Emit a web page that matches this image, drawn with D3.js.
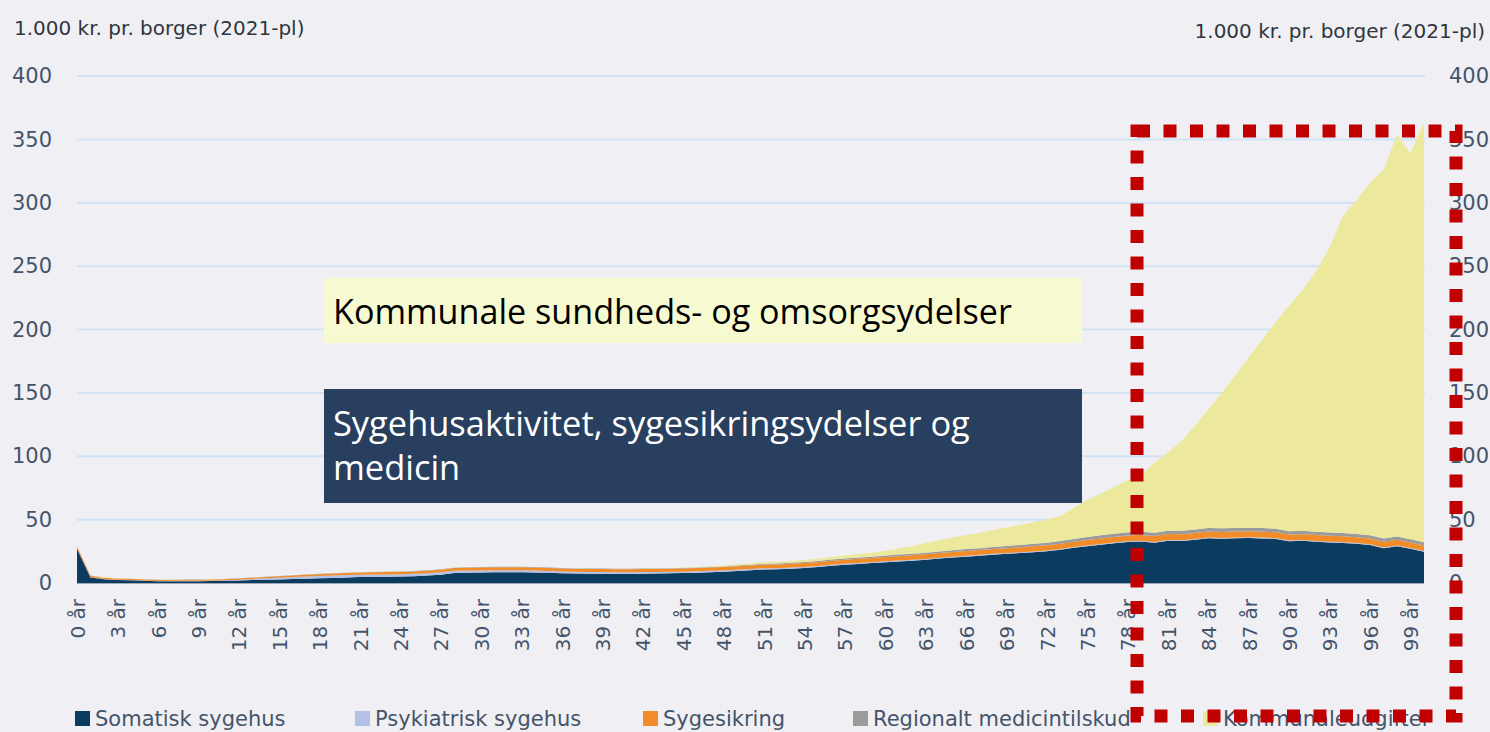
<!DOCTYPE html>
<html>
<head>
<meta charset="utf-8">
<script src="https://cdn.jsdelivr.net/npm/d3@7"></script>
<style>
    body { margin: 0; background: #f0f0f4; }
    svg { display: block; }
</style>
</head>
<body>
<div id="chart"></div>
<script>

    // alder 0 .. 100 år
    var ages = [0, 1, 2, 3, 4, 5, 6, 7, 8, 9, 10, 11, 12, 13, 14, 15, 16, 17, 18, 19, 20,
        21, 22, 23, 24, 25, 26, 27, 28, 29, 30, 31, 32, 33, 34, 35, 36, 37, 38, 39, 40,
        41, 42, 43, 44, 45, 46, 47, 48, 49, 50, 51, 52, 53, 54, 55, 56, 57, 58, 59, 60,
        61, 62, 63, 64, 65, 66, 67, 68, 69, 70, 71, 72, 73, 74, 75, 76, 77, 78, 79, 80,
        81, 82, 83, 84, 85, 86, 87, 88, 89, 90, 91, 92, 93, 94, 95, 96, 97, 98, 99, 100];

    var somatisk = [27, 4.4, 3.0, 2.4, 2.1, 1.8, 1.3, 1.4, 1.4, 1.4, 1.5,
        1.7, 2.0, 2.3, 2.6, 2.8, 3.1, 3.4, 3.7, 4.0, 4.3,
        4.7, 4.8, 4.9, 5.1, 5.4, 5.9, 6.6, 7.8, 8.1, 8.3,
        8.4, 8.4, 8.5, 8.3, 8.0, 7.7, 7.4, 7.3, 7.3, 7.2,
        7.2, 7.3, 7.5, 7.6, 7.8, 8.1, 8.5, 8.9, 9.5, 10.1,
        10.7, 10.8, 11.3, 11.9, 12.7, 13.6, 14.4, 15.0, 15.7, 16.4,
        17.0, 17.6, 18.3, 19.3, 20.1, 20.8, 21.5, 22.3, 23.0, 23.6,
        24.3, 25.0, 26.2, 27.8, 29.0, 30.2, 31.3, 32.4, 32.8, 31.8,
        33.4, 33.2, 34.2, 35.3, 35.0, 35.3, 35.5, 35.2, 34.8, 33.0,
        33.3, 32.6, 32.0, 31.6, 31.0, 30.0, 27.5, 29.0, 27.0, 24.7];

    var psykiatrisk = [0.2, 0.2, 0.2, 0.2, 0.2, 0.2, 0.3, 0.3, 0.3, 0.3, 0.3,
        0.4, 0.6, 0.9, 1.2, 1.4, 1.6, 1.8, 1.9, 1.9, 2.0,
        1.9, 1.9, 1.9, 1.9, 1.8, 1.8, 1.8, 1.8, 1.7, 1.6,
        1.6, 1.6, 1.5, 1.5, 1.4, 1.4, 1.4, 1.4, 1.3, 1.3,
        1.3, 1.3, 1.2, 1.2, 1.1, 1.1, 1.1, 1.0, 1.0, 0.9,
        0.9, 0.9, 0.9, 0.8, 0.8, 0.8, 0.8, 0.8, 0.7, 0.7,
        0.7, 0.7, 0.7, 0.7, 0.7, 0.7, 0.7, 0.7, 0.6, 0.6,
        0.6, 0.6, 0.6, 0.6, 0.6, 0.6, 0.6, 0.6, 0.6, 0.6,
        0.6, 0.6, 0.6, 0.6, 0.6, 0.6, 0.6, 0.6, 0.6, 0.6,
        0.6, 0.6, 0.6, 0.6, 0.6, 0.6, 0.6, 0.6, 0.6, 0.6];

    var sygesikring = [1.5, 1.2, 0.9, 0.9, 0.9, 0.9, 0.8, 0.8, 0.9, 0.9, 0.9,
        0.9, 1.0, 1.0, 1.0, 1.1, 1.2, 1.3, 1.4, 1.5, 1.5,
        1.6, 1.7, 1.8, 1.8, 1.9, 2.0, 2.1, 2.2, 2.3, 2.4,
        2.4, 2.4, 2.5, 2.4, 2.4, 2.3, 2.3, 2.3, 2.4, 2.4,
        2.4, 2.4, 2.4, 2.5, 2.5, 2.6, 2.6, 2.7, 2.7, 2.8,
        2.9, 2.9, 3.0, 3.0, 3.1, 3.2, 3.2, 3.3, 3.3, 3.4,
        3.5, 3.5, 3.6, 3.6, 3.7, 3.8, 3.8, 3.9, 3.9, 4.0,
        4.1, 4.1, 4.2, 4.2, 4.3, 4.4, 4.4, 4.5, 4.5, 4.6,
        4.6, 4.6, 4.6, 4.7, 4.7, 4.7, 4.7, 4.7, 4.6, 4.6,
        4.6, 4.6, 4.6, 4.6, 4.5, 4.5, 4.5, 4.5, 4.4, 4.2];

    var medicintilskud = [0.3, 0.1, 0.1, 0.1, 0.1, 0.1, 0.1, 0.1, 0.1, 0.1, 0.1,
        0.1, 0.1, 0.1, 0.1, 0.2, 0.2, 0.2, 0.3, 0.3, 0.3,
        0.3, 0.3, 0.3, 0.3, 0.3, 0.3, 0.3, 0.3, 0.3, 0.4,
        0.4, 0.4, 0.4, 0.4, 0.4, 0.4, 0.4, 0.4, 0.4, 0.4,
        0.4, 0.4, 0.4, 0.4, 0.5, 0.5, 0.5, 0.5, 0.6, 0.6,
        0.7, 0.7, 0.7, 0.8, 0.8, 0.9, 0.9, 1.0, 1.0, 1.1,
        1.2, 1.2, 1.3, 1.3, 1.4, 1.5, 1.5, 1.6, 1.7, 1.8,
        1.9, 2.0, 2.1, 2.2, 2.3, 2.4, 2.5, 2.5, 2.6, 2.7,
        2.7, 2.8, 2.8, 2.8, 2.8, 2.8, 2.8, 2.8, 2.8, 2.7,
        2.7, 2.7, 2.7, 2.6, 2.6, 2.6, 2.6, 2.6, 2.6, 2.6];

    var kommunal = [0.5, 0.1, 0.3, 0.1, 0.1, 0.1, 0.1, 0.1, 0.1, 0.1, 0.1,
        0.1, 0.1, 0.1, 0.1, 0.1, 0.1, 0.1, 0.1, 0.1, 0.1,
        0.1, 0.1, 0.1, 0.1, 0.1, 0.1, 0.1, 0.1, 0.1, 0.1,
        0.1, 0.1, 0.1, 0.1, 0.1, 0.1, 0.1, 0.1, 0.1, 0.2,
        0.2, 0.2, 0.2, 0.2, 0.3, 0.4, 0.5, 0.7, 0.9, 1.1,
        1.3, 1.4, 1.5, 1.6, 1.8, 2.0, 2.3, 2.7, 3.2, 3.9,
        4.8, 6.0, 7.5, 9.0, 10.0, 10.8, 12.0, 13.3, 14.6, 15.8,
        17.0, 18.3, 19.8, 24.5, 29.0, 33.0, 37.0, 41.0, 45.0, 55.2,
        61.6, 70.8, 81.8, 93.7, 107.0, 120.7, 134.5, 148.8, 163.2, 178.2,
        189.9, 205.6, 225.2, 250.6, 263.2, 278.2, 290.7, 317.2, 304.2, 331.5];

    var yTicks = [0, 50, 100, 150, 200, 250, 300, 350, 400];
    var xTicks = [0, 3, 6, 9, 12, 15, 18, 21, 24, 27, 30, 33, 36, 39, 42, 45, 48,
        51, 54, 57, 60, 63, 66, 69, 72, 75, 78, 81, 84, 87, 90, 93, 96, 99];

    var seriesNames = ["Somatisk sygehus", "Psykiatrisk sygehus", "Sygesikring",
        "Regionalt medicintilskud", "Kommunaleudgifter"];
    var seriesValues = [somatisk, psykiatrisk, sygesikring, medicintilskud, kommunal];
    var colors = ["#0b3b5f", "#b4c1e6", "#f28c28", "#9b9b9b", "#ece89c"];

    var axisTitle = "1.000 kr. pr. borger (2021-pl)";

    // table for d3.stack
    var table = ages.map(function (a, i) {
        var row = { age: a };
        seriesNames.forEach(function (n, k) { row[n] = seriesValues[k][i]; });
        return row;
    });

    var W = 1490, H = 732;
    var font = "'DejaVu Sans', sans-serif";

    var svg = d3.select("#chart").append("svg")
        .attr("width", W)
        .attr("height", H)
        .style("background", "#f0f0f4");

    var x = d3.scaleLinear().domain([0, 100]).range([77, 1424]);
    var y = d3.scaleLinear().domain([0, 400]).range([583, 76]);

    // gridlines
    svg.append("g")
        .selectAll("line")
        .data(yTicks.filter(function (d) { return d > 0; }))
        .enter()
        .append("line")
        .attr("x1", 77)
        .attr("x2", 1425)
        .attr("y1", function (d) { return y(d); })
        .attr("y2", function (d) { return y(d); })
        .attr("stroke", "#cfe3f4")
        .attr("stroke-width", 2);

    // stacked areas
    var stack = d3.stack().keys(seriesNames);
    var layers = stack(table);
    var area = d3.area()
        .x(function (d) { return x(d.data.age); })
        .y0(function (d) { return y(d[0]); })
        .y1(function (d) { return y(d[1]); });

    svg.append("g")
        .selectAll("path")
        .data(layers)
        .enter()
        .append("path")
        .attr("d", area)
        .attr("fill", function (d, i) { return colors[i]; });

    svg.append("line")
        .attr("x1", x(0)).attr("x2", x(100))
        .attr("y1", y(0) + 0.5).attr("y2", y(0) + 0.5)
        .attr("stroke", "#a0a8b4").attr("stroke-width", 1);

    // y axes (left and right)
    var left = svg.append("g")
        .attr("transform", "translate(52,0)")
        .call(d3.axisLeft(y).tickValues(yTicks).tickSize(0).tickPadding(0));
    var right = svg.append("g")
        .attr("transform", "translate(1449,0)")
        .call(d3.axisRight(y).tickValues(yTicks).tickSize(0).tickPadding(0));
    [left, right].forEach(function (g) {
        g.select(".domain").remove();
        g.selectAll("text")
            .style("font-family", font)
            .style("font-size", "21px")
            .attr("fill", "#44546a");
    });

    // x axis
    var xa = svg.append("g")
        .attr("transform", "translate(0,583)")
        .call(d3.axisBottom(x).tickValues(xTicks).tickSize(0)
            .tickFormat(function (d) { return d + " år"; }));
    xa.select(".domain").remove();
    xa.selectAll("text")
        .attr("transform", "rotate(-90)")
        .attr("x", -16)
        .attr("y", 0)
        .attr("dy", "0.36em")
        .style("text-anchor", "end")
        .style("font-family", font)
        .style("font-size", "20px")
        .attr("fill", "#44546a");

    // axis titles
    svg.append("text")
        .attr("x", 14).attr("y", 35)
        .text(axisTitle)
        .style("font-family", font).style("font-size", "20px")
        .attr("fill", "#2f3640");
    svg.append("text")
        .attr("x", 1485).attr("y", 38)
        .attr("text-anchor", "end")
        .text(axisTitle)
        .style("font-family", font).style("font-size", "20px")
        .attr("fill", "#2f3640");

    // legend
    var legendX = [75, 355, 643, 853, 1203];
    var legend = svg.append("g").attr("transform", "translate(0,711)");
    seriesNames.forEach(function (n, i) {
        legend.append("rect")
            .attr("x", legendX[i]).attr("y", 0)
            .attr("width", 15).attr("height", 15)
            .attr("fill", colors[i]);
        legend.append("text")
            .attr("x", legendX[i] + 20).attr("y", 15)
            .text(n)
            .style("font-family", font).style("font-size", "21px")
            .attr("fill", "#44546a");
    });

    // annotation boxes
    function fitText(t, width) {
        var w = t.node().getComputedTextLength();
        var fs = parseFloat(t.style("font-size"));
        t.style("font-size", (fs * width / w) + "px");
    }
    var boxFont = "'Open Sans', 'Noto Sans', sans-serif";

    svg.append("rect")
        .attr("x", 324).attr("y", 278).attr("width", 758).attr("height", 65)
        .attr("fill", "#f7fad0");
    var t1 = svg.append("text")
        .attr("x", 333).attr("y", 324)
        .text("Kommunale sundheds- og omsorgsydelser")
        .style("font-family", boxFont).style("font-size", "30px")
        .attr("fill", "#000");
    fitText(t1, 679);

    svg.append("rect")
        .attr("x", 324).attr("y", 389).attr("width", 758).attr("height", 114)
        .attr("fill", "#283f60");
    var t2 = svg.append("text")
        .attr("x", 333).attr("y", 436)
        .text("Sygehusaktivitet, sygesikringsydelser og")
        .style("font-family", boxFont).style("font-size", "30px")
        .attr("fill", "#ffffff");
    fitText(t2, 637);
    svg.append("text")
        .attr("x", 333).attr("y", 480)
        .text("medicin")
        .style("font-family", boxFont).style("font-size", t2.style("font-size"))
        .attr("fill", "#ffffff");

    // red dotted frame
    svg.append("path")
        .attr("d", "M1137,131 L1456,131 L1456,716 L1137,716 Z")
        .attr("fill", "none")
        .attr("stroke", "#c00000")
        .attr("stroke-width", 13)
        .attr("stroke-dasharray", "13 13.5");

</script>
</body>
</html>
